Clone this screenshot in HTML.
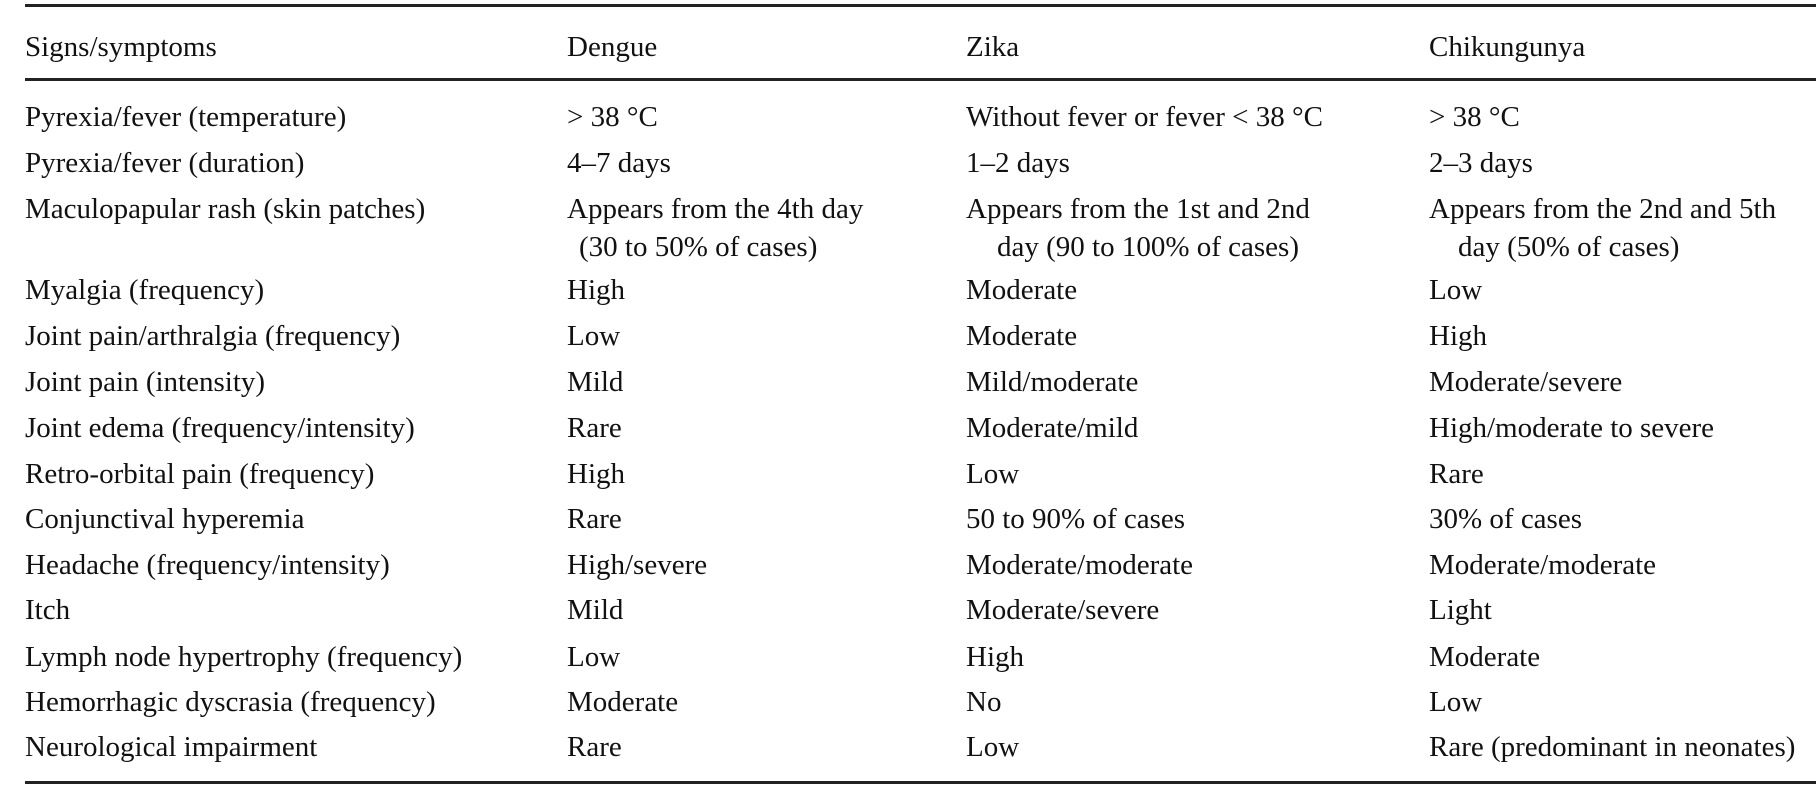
<!DOCTYPE html>
<html><head><meta charset="utf-8"><style>
html,body{margin:0;padding:0;background:#fff;}
body{width:1816px;height:804px;position:relative;overflow:hidden;font-family:"Liberation Serif",serif;font-size:29px;color:#111;}
.rule{position:absolute;left:25px;width:1791px;background:#222;}
.c{position:absolute;white-space:nowrap;line-height:36px;transform:translateY(-18px);}
</style></head><body>
<div class="rule" style="top:4px;height:3px"></div>
<div class="rule" style="top:78px;height:3px"></div>
<div class="rule" style="top:781px;height:3px"></div>
<div id="t"></div>
<script>
var cols=[25,567,966,1429];
var header=["Signs/symptoms","Dengue","Zika","Chikungunya"];
var rows=[
["Pyrexia/fever (temperature)","> 38 °C","Without fever or fever < 38 °C","> 38 °C"],
["Pyrexia/fever (duration)","4–7 days","1–2 days","2–3 days"],
["Maculopapular rash (skin patches)","Appears from the 4th day","Appears from the 1st and 2nd","Appears from the 2nd and 5th"],
["Myalgia (frequency)","High","Moderate","Low"],
["Joint pain/arthralgia (frequency)","Low","Moderate","High"],
["Joint pain (intensity)","Mild","Mild/moderate","Moderate/severe"],
["Joint edema (frequency/intensity)","Rare","Moderate/mild","High/moderate to severe"],
["Retro-orbital pain (frequency)","High","Low","Rare"],
["Conjunctival hyperemia","Rare","50 to 90% of cases","30% of cases"],
["Headache (frequency/intensity)","High/severe","Moderate/moderate","Moderate/moderate"],
["Itch","Mild","Moderate/severe","Light"],
["Lymph node hypertrophy (frequency)","Low","High","Moderate"],
["Hemorrhagic dyscrasia (frequency)","Moderate","No","Low"],
["Neurological impairment","Rare","Low","Rare (predominant in neonates)"]
];
var rowY=[117,163,209,290,336,382,428,474,519,565,610,657,702,747];
var cont=[["(30 to 50% of cases)",579],["day (90 to 100% of cases)",997],["day (50% of cases)",1458]];
var t=document.getElementById('t');
function cell(txt,x,y,name){
  var d=document.createElement('div');d.className='c';
  
  
  d.style.left=x+'px';d.style.top=y+'px';d.textContent=txt;t.appendChild(d);
}
header.forEach(function(h,i){cell(h,cols[i],47,'header-'+h.toLowerCase().replace(/[^a-z]+/g,'-'));});
rows.forEach(function(r,ri){r.forEach(function(v,ci){cell(v,cols[ci],rowY[ri],'cell-r'+(ri+1)+'-c'+(ci+1));});});
cont.forEach(function(c,i){cell(c[0],c[1],247,'rash-cell-line2-c'+(i+2));});
</script>
</body></html>
